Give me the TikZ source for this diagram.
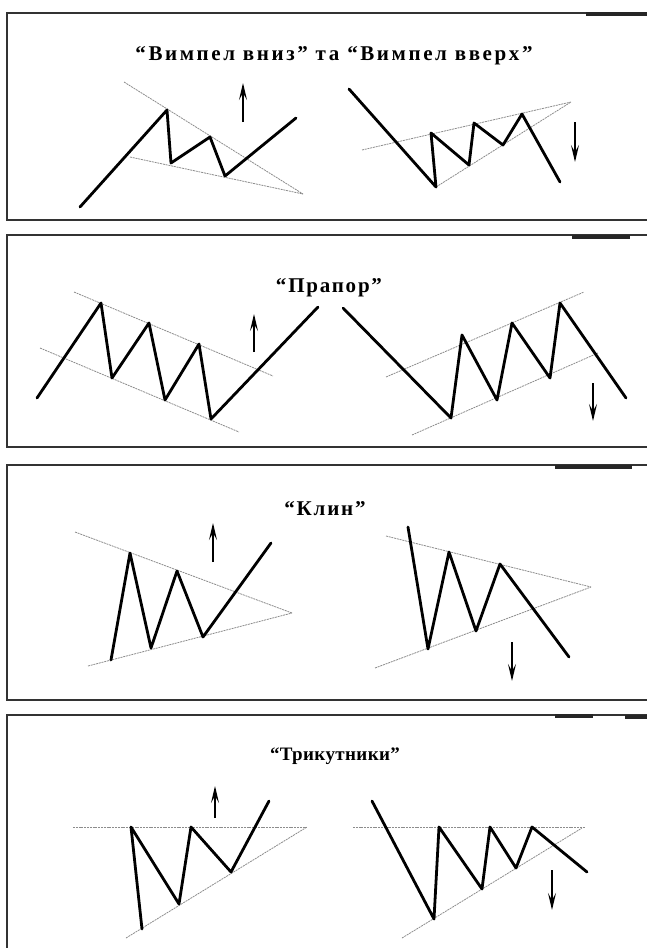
\documentclass[tikz,border=0pt]{standalone}
\usepackage{fontspec}
\newfontfamily\titlefontA[LetterSpace=12.4]{Liberation Serif Bold}
\newfontfamily\titlefontB[LetterSpace=8.5]{Liberation Serif Bold}
\newfontfamily\titlefontC[LetterSpace=2]{Liberation Serif Bold}
\usetikzlibrary{arrows.meta}
\tikzset{
  frameline/.style={line width=1.4pt, draw=black!80},
  smear/.style={line width=3.2pt, draw=black!85},
  zig/.style={line width=2.8pt, black, line join=round, line cap=round},
  guide/.style={line width=0.8pt, draw=black!45, dash pattern=on 2pt off 0.8pt},
  upar/.style={line width=1.8pt, -{Stealth[length=17pt,width=8pt,inset=7pt]}},
  ttl/.style={inner sep=0pt}
}
\begin{document}
\begin{tikzpicture}[x=1pt,y=-1pt]
\useasboundingbox (0,0) rectangle (647,948);
% ---------- frames ----------
\draw[frameline] (647,13) -- (7,13) -- (7,220) -- (647,220);
\draw[smear] (586,14) -- (647,14);
\draw[frameline] (647,235) -- (7,235) -- (7,447) -- (647,447);
\draw[smear] (572,237) -- (630,237);
\draw[frameline] (647,465) -- (7,465) -- (7,700) -- (647,700);
\draw[smear] (555,467) -- (632,467);
\draw[frameline] (647,715) -- (7,715) -- (7,948);
\draw[smear] (555,716) -- (593,716);
\draw[smear] (625,717) -- (647,717);
% ---------- titles ----------
\node[ttl, font=\titlefontA\fontsize{21}{25}\selectfont] (t1) at (334,56) {“Вимпел вниз” та “Вимпел вверх”};
\node[ttl, font=\titlefontB\fontsize{21}{25}\selectfont] (t2) at (329,288) {“Прапор”};
\node[ttl, font=\titlefontB\fontsize{21}{25}\selectfont] (t3) at (325,509) {“Клин”};
\node[ttl, font=\titlefontC\fontsize{19}{23}\selectfont] (t4) at (335,756) {“Трикутники”};
% ---------- panel 1 ----------
\draw[guide] (124,82) -- (303,194);
\draw[guide] (130,157) -- (303,194);
\draw[zig] (80,207) -- (167,110) -- (171,163) -- (210,137) -- (225,176) -- (296,118);
\draw[upar] (243,122) -- (243,83);
\draw[guide] (362,150) -- (571,102);
\draw[guide] (436,187) -- (571,102);
\draw[zig] (349,89) -- (436,187) -- (431,133) -- (469,165) -- (474,123) -- (503,145) -- (522,114) -- (560,182);
\draw[upar] (575,122) -- (575,162);
% ---------- panel 2 ----------
\draw[guide] (74,292) -- (273,376);
\draw[guide] (40,348) -- (239,432);
\draw[zig] (37,398) -- (101,303) -- (112,378) -- (149,323) -- (165,400) -- (199,344) -- (211,419) -- (318,307);
\draw[upar] (254,352) -- (254,314);
\draw[guide] (386,377) -- (584,292);
\draw[guide] (412,435) -- (598,353);
\draw[zig] (343,308) -- (451,418) -- (462,335) -- (497,400) -- (512,323) -- (550,378) -- (560,303) -- (626,398);
\draw[upar] (593,383) -- (593,421);
% ---------- panel 3 ----------
\draw[guide] (75,532) -- (292,613);
\draw[guide] (88,666) -- (292,613);
\draw[zig] (111,660) -- (130,553) -- (151,648) -- (177,571) -- (203,637) -- (271,543);
\draw[upar] (213,562) -- (213,523);
\draw[guide] (386,536) -- (591,587);
\draw[guide] (375,668) -- (591,587);
\draw[zig] (408,527) -- (428,649) -- (449,552) -- (476,631) -- (500,564) -- (569,657);
\draw[upar] (512,642) -- (512,681);
% ---------- panel 4 ----------
\draw[guide] (73,827) -- (307,827);
\draw[guide] (126,938) -- (307,827);
\draw[zig] (142,929) -- (131,827) -- (179,904) -- (191,827) -- (231,872) -- (269,801);
\draw[upar] (215,818) -- (215,786);
\draw[guide] (353,827) -- (585,827);
\draw[guide] (402,938) -- (582,828);
\draw[zig] (372,801) -- (434,919) -- (439,827) -- (482,889) -- (490,827) -- (516,868) -- (532,827) -- (587,872);
\draw[upar] (552,870) -- (552,910);
\end{tikzpicture}
\end{document}
